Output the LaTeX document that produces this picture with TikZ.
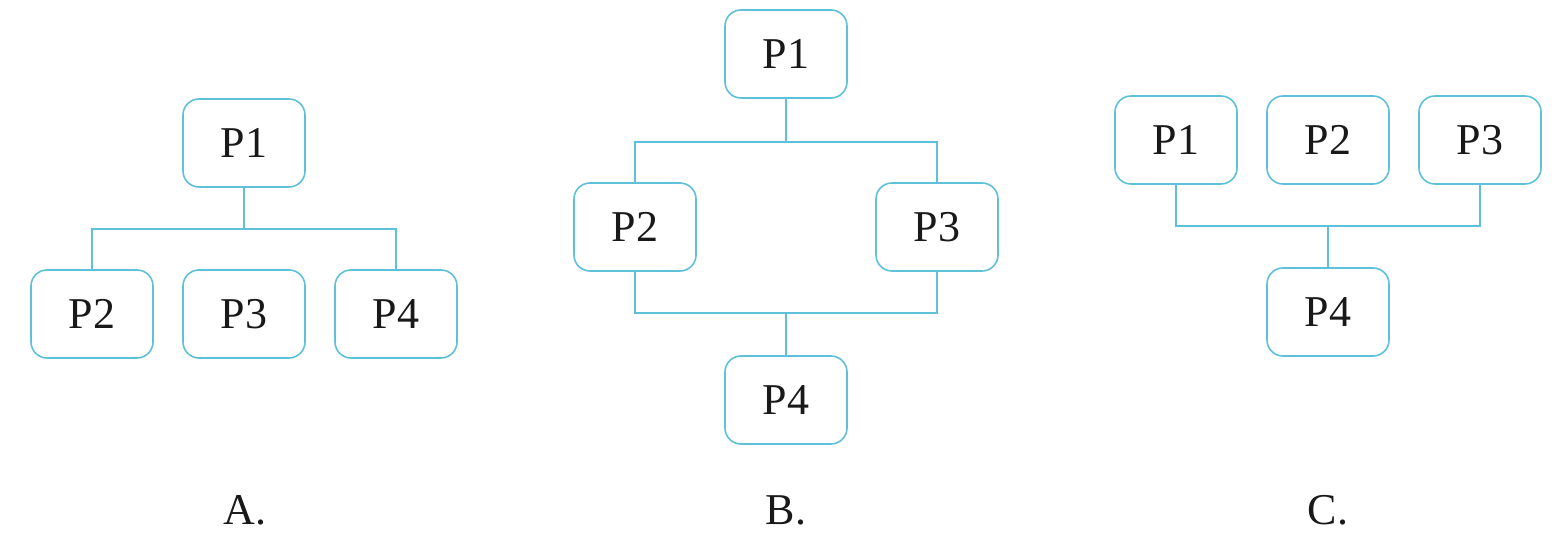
\documentclass[tikz,border=0pt]{standalone}
\usepackage{fontspec}
\setmainfont{Liberation Serif}
\definecolor{boxcol}{RGB}{95,192,218}
\definecolor{txtcol}{RGB}{25,25,25}
\tikzset{
  pbox/.style={draw=boxcol, line width=1.6pt, rounded corners=16pt, minimum width=122pt, minimum height=88pt, inner sep=0pt, text=txtcol, font=\fontsize{44}{53}\selectfont},
  conn/.style={draw=boxcol, line width=1.6pt},
  lbl/.style={text=txtcol, font=\fontsize{44}{53}\selectfont, inner sep=0pt}
}
\begin{document}
\begin{tikzpicture}[x=1pt,y=-1pt]
\useasboundingbox (0,0) rectangle (1559,545);
% Panel A
\node[pbox] (a1) at (244,143) {P1};
\node[pbox] (a2) at (92,314) {P2};
\node[pbox] (a3) at (244,314) {P3};
\node[pbox] (a4) at (396,314) {P4};
\coordinate (ja) at (244,229);
\draw[conn] (a1.south) -- (ja);
\draw[conn] (a2.north) |- (ja) -| (a4.north);
\node[lbl] (la) at (245,510) {A.};
% Panel B
\node[pbox] (b1) at (786,54) {P1};
\node[pbox] (b2) at (635,227) {P2};
\node[pbox] (b3) at (937,227) {P3};
\node[pbox] (b4) at (786,400) {P4};
\coordinate (jb1) at (786,142);
\coordinate (jb2) at (786,313);
\draw[conn] (b1.south) -- (jb1);
\draw[conn] (b2.north) |- (jb1) -| (b3.north);
\draw[conn] (b2.south) |- (jb2) -| (b3.south);
\draw[conn] (jb2) -- (b4.north);
\node[lbl] (lb) at (786,510) {B.};
% Panel C
\node[pbox] (c1) at (1176,140) {P1};
\node[pbox] (c2) at (1328,140) {P2};
\node[pbox] (c3) at (1480,140) {P3};
\node[pbox] (c4) at (1328,312) {P4};
\coordinate (jc) at (1328,226);
\draw[conn] (c1.south) |- (jc) -| (c3.south);
\draw[conn] (jc) -- (c4.north);
\node[lbl] (lc) at (1328,510) {C.};
\end{tikzpicture}
\end{document}
